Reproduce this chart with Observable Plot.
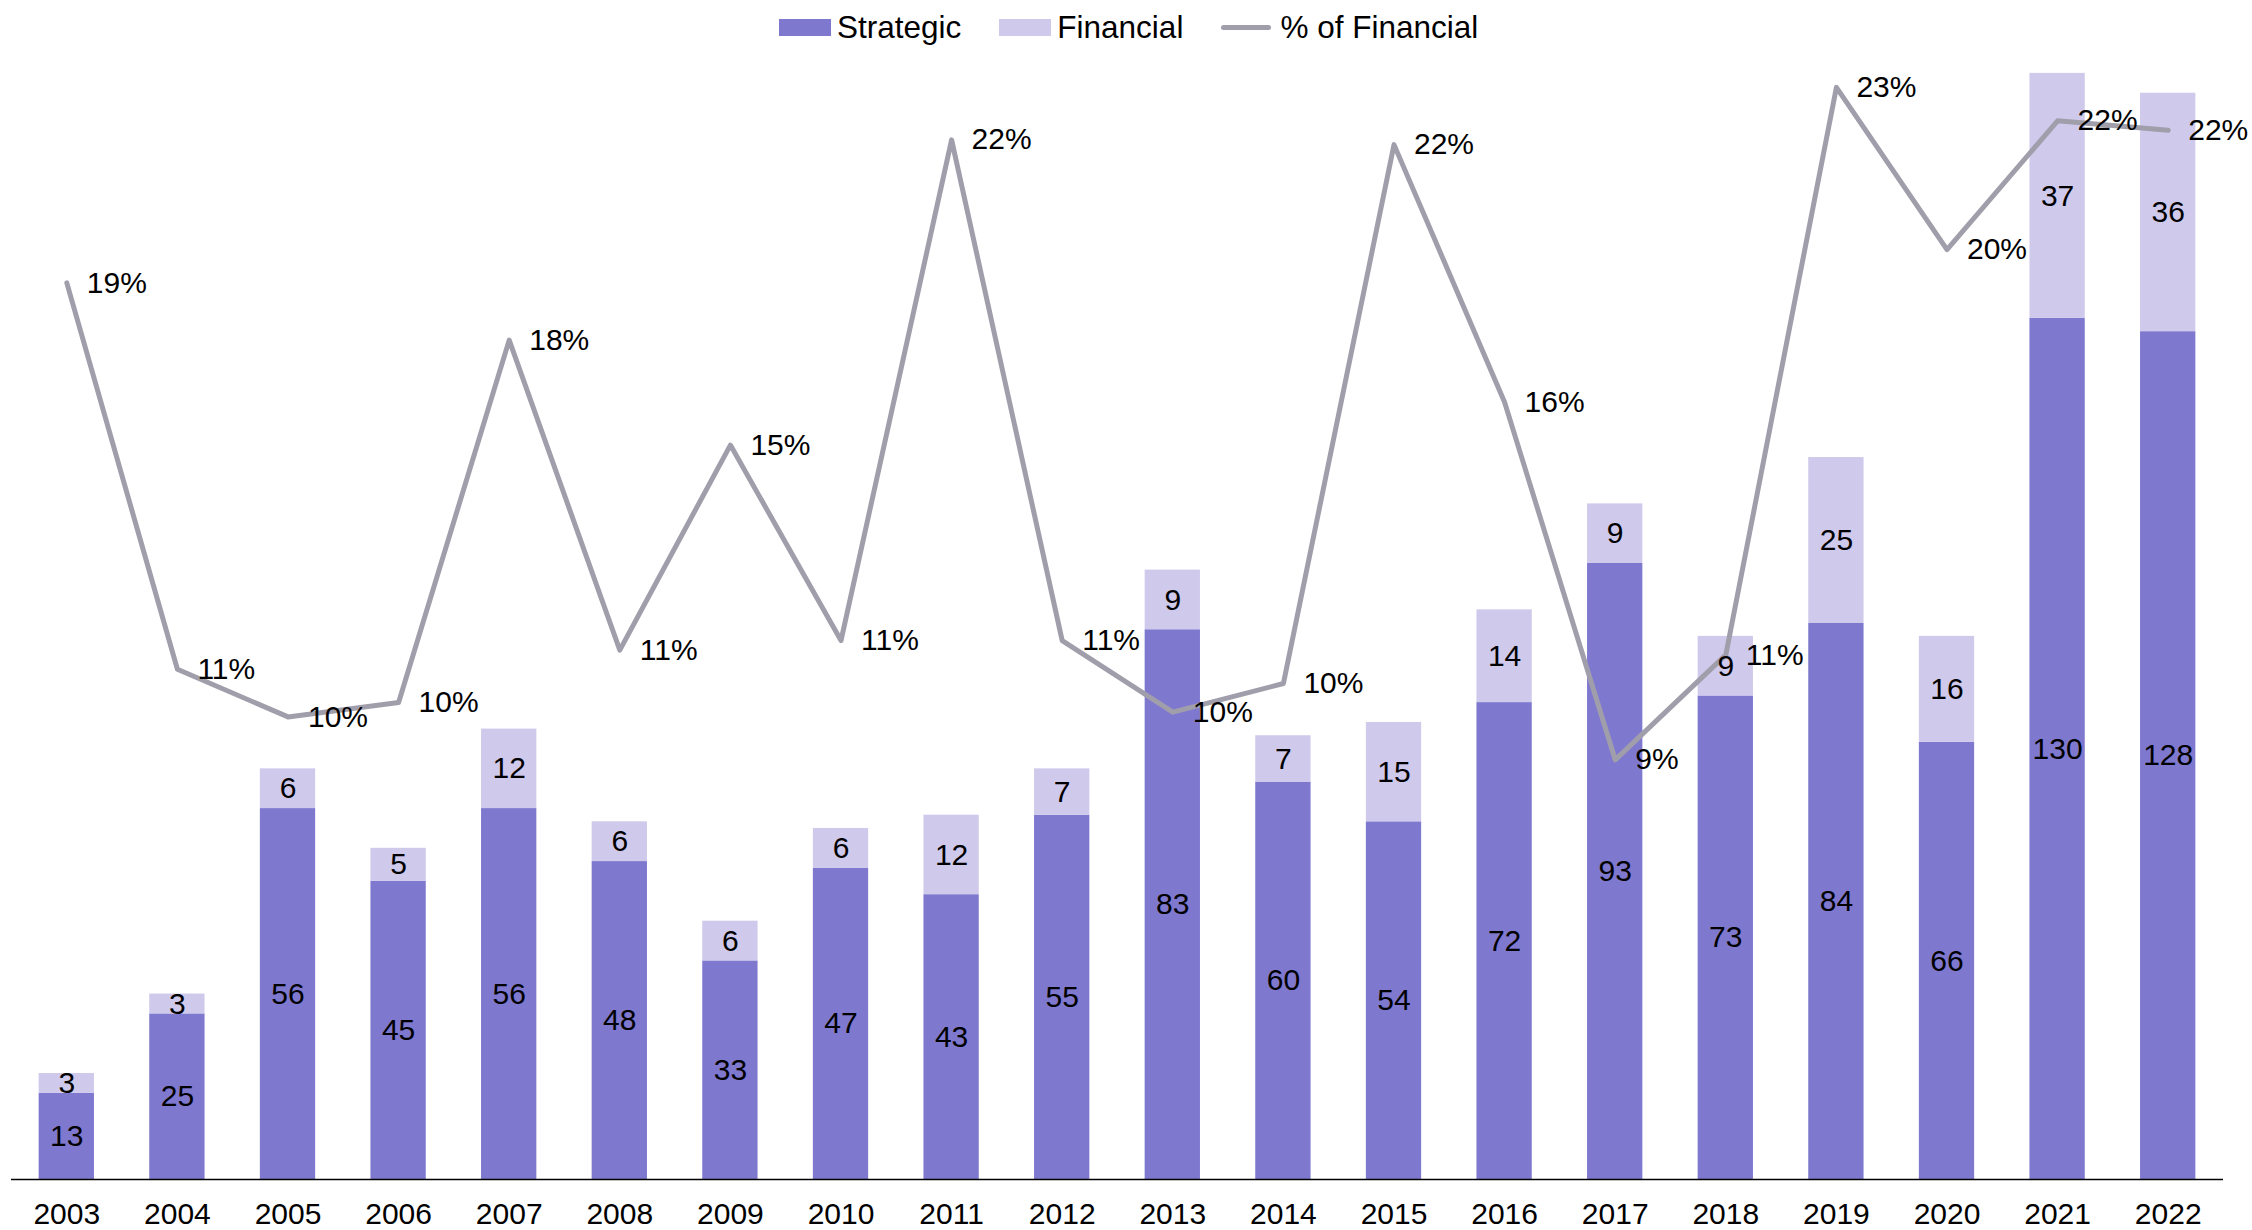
<!DOCTYPE html>
<html>
<head>
<meta charset="utf-8">
<script src="https://cdn.jsdelivr.net/npm/d3@7"></script>
<script src="https://cdn.jsdelivr.net/npm/@observablehq/plot@0.6"></script>
<style>
  html, body { margin: 0; padding: 0; background: #fff; }
  body { width: 2252px; height: 1230px; position: relative; overflow: hidden;
         font-family: "Liberation Sans", Arial, sans-serif; }
  #legend { position: absolute; left: 779px; top: 8px; height: 38px; display: flex; align-items: center;
            font-size: 31.5px; color: #000; white-space: nowrap; }
  .sw { display: inline-block; width: 52px; height: 17px; margin-right: 6px; }
  .ln { display: inline-block; width: 50px; height: 5px; border-radius: 3px; margin-right: 9px; }
  .item { display: flex; align-items: center; margin-right: 38px; }
  #chart { position: absolute; left: 0; top: 0; }
</style>
</head>
<body>
<div id="chart"></div>
<div id="legend"></div>
<script>
const years = ["2003","2004","2005","2006","2007","2008","2009","2010","2011","2012",
               "2013","2014","2015","2016","2017","2018","2019","2020","2021","2022"];
const strategic = [13,25,56,45,56,48,33,47,43,55,83,60,54,72,93,73,84,66,130,128];
const financial = [3,3,6,5,12,6,6,6,12,7,9,7,15,14,9,9,25,16,37,36];
const pctFinancial = [18.8,10.7,9.7,10.0,17.6,11.1,15.4,11.3,21.8,11.3,9.8,10.4,21.7,16.3,8.8,11.0,22.9,19.5,22.2,22.0];
const pctLabels = ["19%","11%","10%","10%","18%","11%","15%","11%","22%","11%","10%","10%","22%","16%","9%","11%","23%","20%","22%","22%"];

const colors = { Strategic: "#7e78cf", Financial: "#cfc9ec", line: "#a19eab" };
const PCT_TO_Y = 7.2; // secondary axis: 25% spans the same height as 180 deals

const long = [];
years.forEach((y, i) => {
  long.push({ year: y, type: "Strategic", value: strategic[i] });
  long.push({ year: y, type: "Financial", value: financial[i] });
});
const pct = years.map((y, i) => ({ year: y, pct: pctFinancial[i], label: pctLabels[i] }));

const font = "Liberation Sans, Arial, sans-serif";

const chart = Plot.plot({
  width: 2252,
  height: 1230,
  marginLeft: 11,
  marginRight: 29,
  marginTop: 0,
  marginBottom: 51,
  style: { fontFamily: font, fontSize: "30px", color: "#000", background: "transparent" },
  x: { domain: years, paddingInner: 0.5, paddingOuter: 0.25, round: false, label: null },
  y: { domain: [0, 178], axis: null },
  color: { domain: ["Strategic", "Financial"], range: [colors.Strategic, colors.Financial] },
  marks: [
    Plot.barY(long, { x: "year", y: "value", fill: "type", order: ["Strategic", "Financial"] }),
    Plot.line(pct, { x: "year", y: d => d.pct * PCT_TO_Y, stroke: colors.line, strokeWidth: 5,
                     strokeLinejoin: "round", strokeLinecap: "round" }),
    Plot.text(long, Plot.stackY({ x: "year", y: "value", z: "type", order: ["Strategic", "Financial"],
                                  text: d => String(d.value), fill: "#000", fontSize: 30 })),
    Plot.text(pct, { x: "year", y: d => d.pct * PCT_TO_Y, text: "label", dx: 20, textAnchor: "start",
                     fill: "#000", fontSize: 30 }),
    Plot.ruleY([0], { stroke: "#000", strokeWidth: 1.5 }),
    Plot.axisX({ tickSize: 0, tickPadding: 23, fontSize: 30, label: null })
  ]
});
document.getElementById("chart").appendChild(chart);

const legend = document.getElementById("legend");
legend.innerHTML =
  `<span class="item"><span class="sw" style="background:${colors.Strategic}"></span>Strategic</span>` +
  `<span class="item"><span class="sw" style="background:${colors.Financial}"></span>Financial</span>` +
  `<span class="item" style="margin-right:0"><span class="ln" style="background:${colors.line}"></span>% of Financial</span>`;
</script>
</body>
</html>
